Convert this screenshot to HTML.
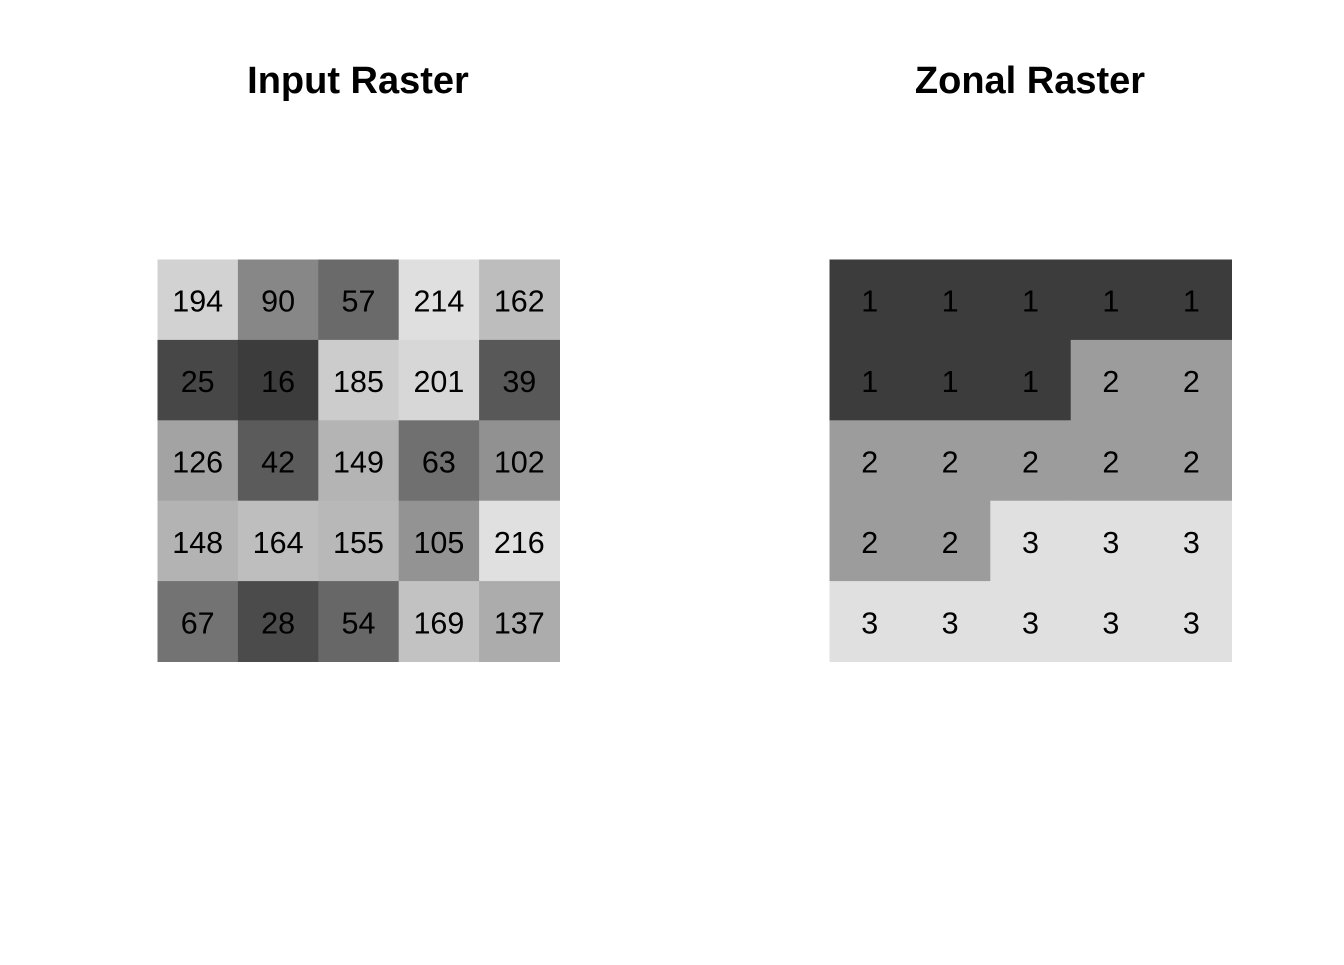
<!DOCTYPE html>
<html><head><meta charset="utf-8"><style>
html,body{margin:0;padding:0;background:#fff;}
svg text{font-family:"Liberation Sans",Arial,sans-serif;}
</style></head><body>
<svg id="chart" width="1344" height="960" viewBox="0 0 1344 960" xmlns="http://www.w3.org/2000/svg">
<rect width="1344" height="960" fill="#fff"/>
<text x="358" y="93" text-anchor="middle" font-size="38" font-weight="bold">Input Raster</text>
<text x="1030" y="93" text-anchor="middle" font-size="38" font-weight="bold">Zonal Raster</text>
<g id="left"></g>
<g id="right"></g>
</svg>
<script>
const inputValues = [194,90,57,214,162, 25,16,185,201,39, 126,42,149,63,102, 148,164,155,105,216, 67,28,54,169,137];
const zoneValues = [1,1,1,1,1, 1,1,1,2,2, 2,2,2,2,2, 2,2,3,3,3, 3,3,3,3,3];
const nCols = 5;
const nRows = 5;

function grayFor(v, lo, hi){
  const s=0.235, e=0.878, g=1.6;
  const t=(v-lo)/(hi-lo);
  const L=Math.pow(Math.pow(s,g)+(Math.pow(e,g)-Math.pow(s,g))*t,1/g);
  const c=Math.round(L*255);
  return `rgb(${c},${c},${c})`;
}
function drawGrid(gId, vals, x0, y0, x1, y1, name){
  const g=document.getElementById(gId);
  const lo=Math.min(...vals), hi=Math.max(...vals);
  const cw=(x1-x0)/nCols, ch=(y1-y0)/nRows;
  const ns="http://www.w3.org/2000/svg";
  vals.forEach((v,i)=>{
    const r=Math.floor(i/nCols), c=i%nCols;
    const rect=document.createElementNS(ns,'rect');
    rect.setAttribute('x',x0+c*cw);rect.setAttribute('y',y0+r*ch);
    rect.setAttribute('width',cw+0.5);rect.setAttribute('height',ch+0.5);
    rect.setAttribute('fill',grayFor(v,lo,hi));
    
    
    g.appendChild(rect);
    const t=document.createElementNS(ns,'text');
    t.setAttribute('x',x0+(c+0.5)*cw);t.setAttribute('y',y0+(r+0.5)*ch+12);
    t.setAttribute('text-anchor','middle');t.setAttribute('font-size','30.5');
    t.textContent=v;
    
    
    g.appendChild(t);
  });
}
drawGrid('left', inputValues, 157.5, 259.5, 559.5, 661.5, 'input');
drawGrid('right', zoneValues, 829.5, 259.5, 1231.5, 661.5, 'zone');
</script>
</body></html>
